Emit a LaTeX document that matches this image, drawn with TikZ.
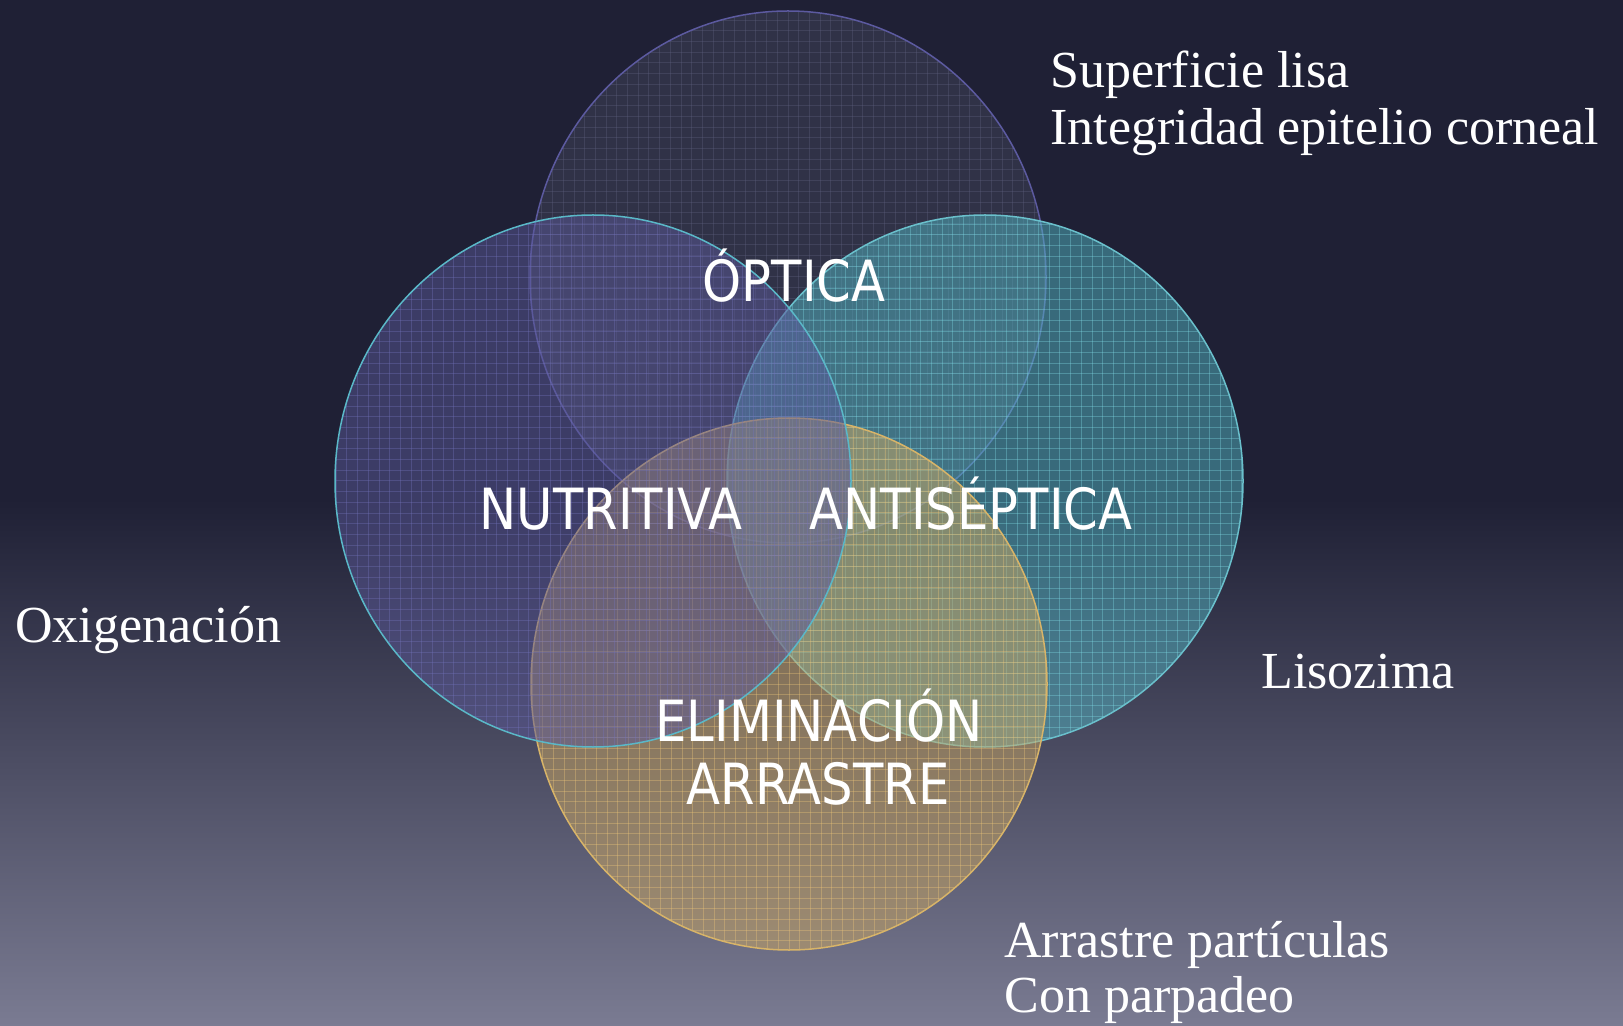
\documentclass[tikz,border=0pt]{standalone}
\usepackage{fontspec}
\setmainfont{Liberation Serif}
\newfontfamily\labelfont[FakeStretch=0.875]{DejaVu Sans}

\definecolor{bgtop}{HTML}{1F2035}
\definecolor{bgbottom}{HTML}{7A7B92}
\definecolor{filltop}{HTML}{41445A}
\definecolor{gridtop}{HTML}{5E6180}
\definecolor{linetop}{HTML}{5C5AA0}
\definecolor{fillright}{HTML}{52B4C2}
\definecolor{gridright}{HTML}{80DCE6}
\definecolor{lineright}{HTML}{6AC0CC}
\definecolor{fillbottom}{HTML}{CCA862}
\definecolor{gridbottom}{HTML}{F0C87A}
\definecolor{linebottom}{HTML}{D8B468}
\definecolor{fillleft}{HTML}{5A5898}
\definecolor{gridleft}{HTML}{7474BC}
\definecolor{lineleft}{HTML}{5AB8C8}

\begin{document}
\begin{tikzpicture}[x=0.5pt, y=-0.5pt,
  side/.style={font=\fontsize{26}{30}\selectfont, text=white, inner sep=0pt, anchor=base west},
  func/.style={font=\labelfont\fontsize{28.4}{32}\selectfont, text=white, inner sep=0pt, anchor=base}]

  \pgfmathsetmacro{\rx}{258}
  \pgfmathsetmacro{\ry}{266}
  \pgfmathsetmacro{\gap}{10.7}

  \useasboundingbox (0,0) rectangle (1623,1026);

  % background
  \fill[bgtop] (0,0) rectangle (1623,500);
  \shade[top color=bgtop, bottom color=bgbottom] (0,499) rectangle (1623,1026);

  % circles: top, right, bottom, left
  \foreach \cx/\cy/\col in {788/277/top, 985/481/right, 789/684/bottom, 593/481/left}
  {
    \fill[fill=fill\col, fill opacity=0.5] (\cx,\cy) ellipse [x radius=\rx, y radius=\ry];
    \begin{scope}
      \clip (\cx,\cy) ellipse [x radius=\rx, y radius=\ry];
      \foreach \i in {-25,...,25}{
        \draw[draw=grid\col, draw opacity=0.35, line width=0.5pt] (\cx+\i*\gap,\cy-\ry) -- (\cx+\i*\gap,\cy+\ry); % vertical
        \draw[draw=grid\col, draw opacity=0.35, line width=0.5pt] (\cx-\rx,\cy+\i*\gap) -- (\cx+\rx,\cy+\i*\gap); % horizontal
      }
    \end{scope}
    \draw[draw=line\col, line width=0.75pt] (\cx,\cy) ellipse [x radius=\rx, y radius=\ry];
  }

  % function labels
  \node[func] (optica) at (794,302) {ÓPTICA};
  \node[func] (nutritiva) at (611,530) {NUTRITIVA};
  \node[func] (antiseptica) at (971,530) {ANTISÉPTICA};
  \node[func] (eliminacion) at (819,741) {ELIMINACIÓN};
  \node[func] (arrastre) at (818,804) {ARRASTRE};

  % side notes
  \node[side] (superficie) at (1050,88) {Superficie lisa};
  \node[side] (integridad) at (1050,145) {Integridad epitelio corneal};
  \node[side] (oxigenacion) at (15,642) {Oxigenación};
  \node[side] (lisozima) at (1261,688) {Lisozima};
  \node[side] (particulas) at (1004,957) {Arrastre partículas};
  \node[side] (parpadeo) at (1004,1012) {Con parpadeo};

\end{tikzpicture}
\end{document}
